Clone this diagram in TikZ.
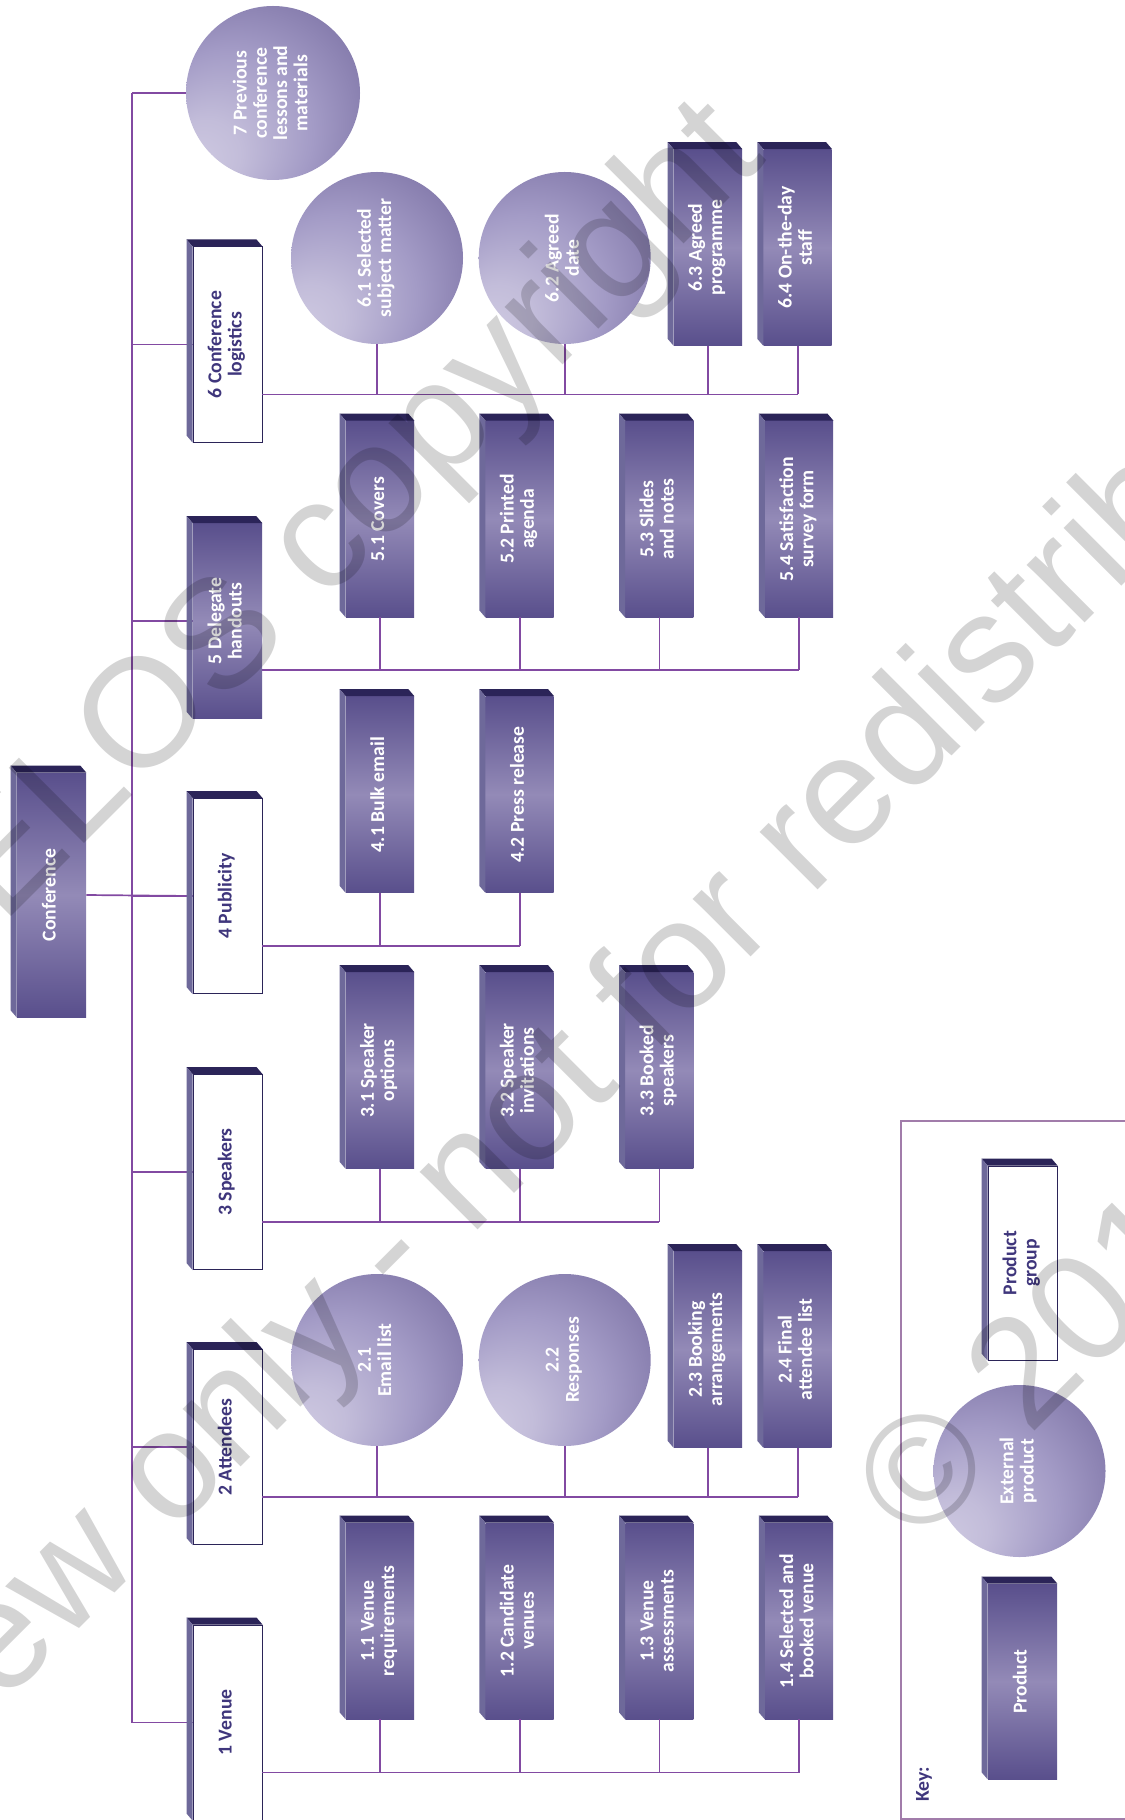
\documentclass[tikz,border=0pt]{standalone}
\usepackage{fontspec}
\usepackage{graphicx}
\setmainfont{Carlito}
\newfontfamily\markfont{Liberation Sans}
\usetikzlibrary{positioning}
\definecolor{SlabTop}{RGB}{43,36,88}
\definecolor{SlabSide}{RGB}{110,105,154}
\definecolor{SlabDeep}{RGB}{89,79,140}
\definecolor{SlabPale}{RGB}{147,138,183}
\definecolor{GroupInk}{RGB}{63,54,124}
\definecolor{LinkPurple}{RGB}{130,74,162}
\definecolor{KeyMauve}{RGB}{161,124,170}
\definecolor{BallPale}{RGB}{208,203,226}
\definecolor{BallMid}{RGB}{163,155,198}
\definecolor{BallDeep}{RGB}{122,112,163}
\pgfdeclareradialshading{ballglow}{\pgfpoint{-24bp}{-22bp}}{%
  color(0bp)=(BallPale); color(10bp)=(BallPale!70!BallMid);
  color(24bp)=(BallMid); color(40bp)=(BallDeep); color(50bp)=(BallDeep)}
\newcommand{\boxfont}{\fontsize{11.2}{11.5}\selectfont\bfseries}
\newcommand{\vlabel}[1]{\rotatebox{90}{\begin{tabular}{@{}c@{}}#1\end{tabular}}}
% dark top and grey side of a slab, behind its front face
\newcommand{\slabfaces}[1]{%
  \fill[topface] (#1.north west) -- (#1.north east)
    -- ([shift={(-6,-7)}]#1.north east) -- ([shift={(-6,-7)}]#1.north west) -- cycle;
  \fill[sideface] (#1.north west) -- ([shift={(-6,-7)}]#1.north west)
    -- ([shift={(-6,-7)}]#1.south west) -- (#1.south west) -- cycle;
}
\tikzset{
  product/.style={rectangle,inner sep=0pt,minimum width=13.6mm,minimum height=39.2mm,
    top color=SlabDeep,bottom color=SlabDeep,middle color=SlabPale,text=white,font=\boxfont},
  group/.style={rectangle,inner sep=0pt,minimum width=13.8mm,minimum height=39mm,
    draw=SlabTop,line width=0.2mm,fill=white,text=GroupInk,font=\boxfont},
  external/.style={circle,inner sep=0pt,minimum size=34.4mm,shading=ballglow,
    text=white,font=\boxfont},
  topface/.style={fill=SlabTop},
  sideface/.style={fill=SlabSide},
  link/.style={draw=LinkPurple,line width=0.34mm},
  keyline/.style={draw=KeyMauve,line width=0.5mm},
  watermark/.style={rotate=45,anchor=base west,inner sep=0pt,
    font=\markfont\fontsize{88}{90}\selectfont,text=black,text opacity=0.17}
}

\begin{document}
\begin{tikzpicture}[x=0.2mm,y=-0.2mm,node distance=14.2mm]
\useasboundingbox (0,0) rectangle (1124,1820);

% root and groups
\node[product,minimum width=13.8mm,minimum height=48.8mm] (conf) at (51.5,895) {\vlabel{Conference}};
\node[external,minimum size=34.8mm] (c7) at (273,93) {\vlabel{7 Previous\\conference\\lessons and\\materials}};
\node[group] (g6) at (227.5,344.5) {\vlabel{6 Conference\\logistics}};
\node[product,minimum width=13.8mm,minimum height=39mm] (g5) at (227.5,621) {\vlabel{5 Delegate\\handouts}};
\node[group] (g4) at (227.5,896) {\vlabel{4 Publicity}};
\node[group] (g3) at (227.5,1172) {\vlabel{3 Speakers}};
\node[group] (g2) at (227.5,1447) {\vlabel{2 Attendees}};
\node[group] (g1) at (227.5,1722.5) {\vlabel{1 Venue}};

% 6
\node[external] (c61) at (377,258) {\vlabel{6.1 Selected\\subject matter}};
\node[external,right=3mm of c61] (c62) {\vlabel{6.2 Agreed\\date}};
\node[product] (p63) at (708,247.5) {\vlabel{6.3 Agreed\\programme}};
\node[product,right=4.2mm of p63] (p64) {\vlabel{6.4 On-the-day\\staff}};

% 5
\node[product] (p51) at (380,519) {\vlabel{5.1 Covers}};
\node[product,right=of p51] (p52) {\vlabel{5.2 Printed\\agenda}};
\node[product,right=of p52] (p53) {\vlabel{5.3 Slides\\and notes}};
\node[product,right=of p53] (p54) {\vlabel{5.4 Satisfaction\\survey form}};

% 4
\node[product] (p41) at (380,794.5) {\vlabel{4.1 Bulk email}};
\node[product,right=of p41] (p42) {\vlabel{4.2 Press release}};

% 3
\node[product] (p31) at (380,1070.5) {\vlabel{3.1 Speaker\\options}};
\node[product,right=of p31] (p32) {\vlabel{3.2 Speaker\\invitations}};
\node[product,right=of p32] (p33) {\vlabel{3.3 Booked\\speakers}};

% 2
\node[external] (c21) at (377,1360) {\vlabel{2.1\\Email list}};
\node[external,right=3mm of c21] (c22) {\vlabel{2.2\\Responses}};
\node[product] (p23) at (708,1349.5) {\vlabel{2.3 Booking\\arrangements}};
\node[product,right=4.2mm of p23] (p24) {\vlabel{2.4 Final\\attendee list}};

% 1
\node[product] (p11) at (380,1621) {\vlabel{1.1 Venue\\requirements}};
\node[product,right=of p11] (p12) {\vlabel{1.2 Candidate\\venues}};
\node[product,right=of p12] (p13) {\vlabel{1.3 Venue\\assessments}};
\node[product,right=of p13] (p14) {\vlabel{1.4 Selected and\\booked venue}};

% key
\draw[keyline] (901,1121) rectangle (1140,1819);
\node[group,minimum height=38.8mm] (kgroup) at (1022.5,1263) {\vlabel{Product\\group}};
\node[external] (kext) at (1019.5,1471) {\vlabel{External\\product}};
\node[product,minimum width=13.8mm,minimum height=39mm] (kprod) at (1022.5,1681.5) {\vlabel{Product}};
\node[text=GroupInk,font=\boxfont,inner sep=0pt] (keytitle) at (924,1784) {\rotatebox{90}{Key:}};

% connectors
\coordinate (trunk) at (132,0);
\draw[link] (c7.west -| trunk) -- (g1.west -| trunk);
\foreach \g in {c7,g6,g5,g4,g3,g2,g1}
  \draw[link] (\g.west) -- (\g.west -| trunk);
\draw[link] (conf.east) -- (g4.west);

\coordinate (bus6) at (262,394.5);
\coordinate (bus5) at (262,670);
\coordinate (bus4) at (262,946);
\coordinate (bus3) at (262,1222);
\coordinate (bus2) at (262,1497);
\coordinate (bus1) at (262,1772.5);
\draw[link] (bus6) -- (bus6 -| p64.south);
\draw[link] (bus5) -- (bus5 -| p54.south);
\draw[link] (bus4) -- (bus4 -| p42.south);
\draw[link] (bus3) -- (bus3 -| p33.south);
\draw[link] (bus2) -- (bus2 -| p24.south);
\draw[link] (bus1) -- (bus1 -| p14.south);
\foreach \c in {c61,c62,p63,p64}
  \draw[link] (\c.south) -- (\c.south |- bus6);
\foreach \c in {p51,p52,p53,p54}
  \draw[link] (\c.south) -- (\c.south |- bus5);
\foreach \c in {p41,p42}
  \draw[link] (\c.south) -- (\c.south |- bus4);
\foreach \c in {p31,p32,p33}
  \draw[link] (\c.south) -- (\c.south |- bus3);
\foreach \c in {c21,c22,p23,p24}
  \draw[link] (\c.south) -- (\c.south |- bus2);
\foreach \c in {p11,p12,p13,p14}
  \draw[link] (\c.south) -- (\c.south |- bus1);

% 3d edges
\foreach \n in {conf,g6,g5,g4,g3,g2,g1,p63,p64,p51,p52,p53,p54,p41,p42,
    p31,p32,p33,p23,p24,p11,p12,p13,p14,kgroup,kprod}
  {\slabfaces{\n}}

% watermark
\begin{scope}
\clip (0,0) rectangle (1124,1820);
\node[watermark] (mark1) at (-144,1072) {AXELOS copyright};
\node[watermark] (mark2) at (-247,1955) {Preview only - not for redistribution};
\node[watermark] (mark3) at (918,1548) {© 201};
\end{scope}
\end{tikzpicture}
\end{document}
